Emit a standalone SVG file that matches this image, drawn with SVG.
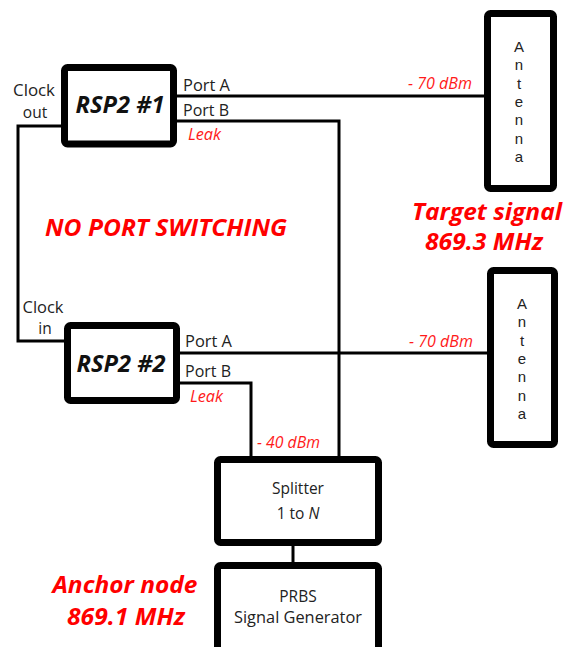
<svg xmlns="http://www.w3.org/2000/svg" width="564" height="647" viewBox="0 0 564 647">
<style>
.box{fill:#fff;stroke:#000;stroke-width:7;}
.wire{fill:none;stroke:#000;stroke-width:3;}
.t{font-family:"Open Sans","Liberation Sans",sans-serif;fill:#222;font-size:15.5px;}
.big{font-family:"Open Sans","Liberation Sans",sans-serif;font-weight:bold;font-style:italic;fill:#111;font-size:24px;}
.red{font-family:"Open Sans","Liberation Sans",sans-serif;font-style:italic;fill:#ff1a1a;font-size:15.5px;}
.redb{font-family:"Open Sans","Liberation Sans",sans-serif;font-style:italic;font-weight:bold;fill:#ff0000;font-size:23px;}
.ant{font-family:"Liberation Sans",Arial,sans-serif;fill:#222;font-size:15px;text-anchor:middle;}
</style>
<rect width="564" height="647" fill="#fff"/>
<g id="connectors">
<path class="wire" d="M177,96 H486"/>
<path class="wire" d="M177,121 H339 V457"/>
<path class="wire" d="M62,126 H18 V341 H65"/>
<path class="wire" d="M180,353 H489"/>
<path class="wire" d="M180,383 H251 V457"/>
<path class="wire" d="M293,545 V563"/>
<path d="M491,97 H545" stroke="#e0e0e0" stroke-width="1"/>
<path d="M494,354 H547" stroke="#e0e0e0" stroke-width="1"/>
</g>
<g id="rsp1">
<rect class="box" x="64.5" y="67.5" width="109" height="76.5" rx="3"/>
<text class="big" x="120" y="113" text-anchor="middle" textLength="89" lengthAdjust="spacingAndGlyphs">RSP2 #1</text>
<text class="t" x="183" y="91" textLength="47" lengthAdjust="spacingAndGlyphs">Port A</text>
<text class="t" x="183" y="116" textLength="46" lengthAdjust="spacingAndGlyphs">Port B</text>
<text class="red" x="188" y="140" textLength="33" lengthAdjust="spacingAndGlyphs">Leak</text>
<text class="t" x="34" y="96" text-anchor="middle" textLength="42" lengthAdjust="spacingAndGlyphs">Clock</text>
<text class="t" x="35" y="118" text-anchor="middle">out</text>
</g>
<g id="rsp2">
<rect class="box" x="67.5" y="325.5" width="109" height="75" rx="3"/>
<text class="big" x="121" y="372" text-anchor="middle" textLength="89" lengthAdjust="spacingAndGlyphs">RSP2 #2</text>
<text class="t" x="185" y="347" textLength="47" lengthAdjust="spacingAndGlyphs">Port A</text>
<text class="t" x="185" y="377" textLength="46" lengthAdjust="spacingAndGlyphs">Port B</text>
<text class="red" x="190" y="402" textLength="33" lengthAdjust="spacingAndGlyphs">Leak</text>
<text class="t" x="43" y="313" text-anchor="middle" textLength="41" lengthAdjust="spacingAndGlyphs">Clock</text>
<text class="t" x="45" y="334" text-anchor="middle">in</text>
</g>
<g id="antenna1">
<rect class="box" x="487.5" y="13.5" width="66" height="175" rx="3"/>
<text class="ant"><tspan x="519" y="52">A</tspan><tspan x="519" y="70.3">n</tspan><tspan x="519" y="88.6">t</tspan><tspan x="519" y="107">e</tspan><tspan x="519" y="125.3">n</tspan><tspan x="519" y="143.6">n</tspan><tspan x="519" y="162">a</tspan></text>
<text class="red" x="408" y="89" textLength="64" lengthAdjust="spacingAndGlyphs">- 70 dBm</text>
</g>
<g id="antenna2">
<rect class="box" x="490.5" y="270.5" width="64" height="174" rx="3"/>
<text class="ant"><tspan x="522" y="309">A</tspan><tspan x="522" y="327.3">n</tspan><tspan x="522" y="345.6">t</tspan><tspan x="522" y="364">e</tspan><tspan x="522" y="382.3">n</tspan><tspan x="522" y="400.6">n</tspan><tspan x="522" y="419">a</tspan></text>
<text class="red" x="409" y="347" textLength="64" lengthAdjust="spacingAndGlyphs">- 70 dBm</text>
</g>
<g id="splitter">
<rect class="box" x="217.5" y="459.5" width="161" height="83" rx="3"/>
<text class="t" x="298" y="494" text-anchor="middle" font-size="17">Splitter</text>
<text class="t" x="298" y="519" text-anchor="middle" font-size="17">1 to <tspan font-style="italic">N</tspan></text>
<text class="red" x="257" y="448" textLength="63" lengthAdjust="spacingAndGlyphs">- 40 dBm</text>
</g>
<g id="prbs">
<rect class="box" x="217.5" y="565.5" width="161" height="100" rx="3"/>
<text class="t" x="298" y="602" text-anchor="middle" font-size="17">PRBS</text>
<text class="t" x="298" y="623" text-anchor="middle" font-size="17" textLength="128" lengthAdjust="spacingAndGlyphs">Signal Generator</text>
</g>
<g id="labels">
<text class="redb" x="45" y="236" textLength="242" lengthAdjust="spacingAndGlyphs">NO PORT SWITCHING</text>
<text class="redb" x="487" y="220" text-anchor="middle" textLength="150" lengthAdjust="spacingAndGlyphs">Target signal</text>
<text class="redb" x="484" y="250" text-anchor="middle" textLength="118" lengthAdjust="spacingAndGlyphs">869.3 MHz</text>
<text class="redb" x="125" y="593" text-anchor="middle" textLength="145" lengthAdjust="spacingAndGlyphs">Anchor node</text>
<text class="redb" x="126" y="625" text-anchor="middle" textLength="118" lengthAdjust="spacingAndGlyphs">869.1 MHz</text>
</g>
</svg>
